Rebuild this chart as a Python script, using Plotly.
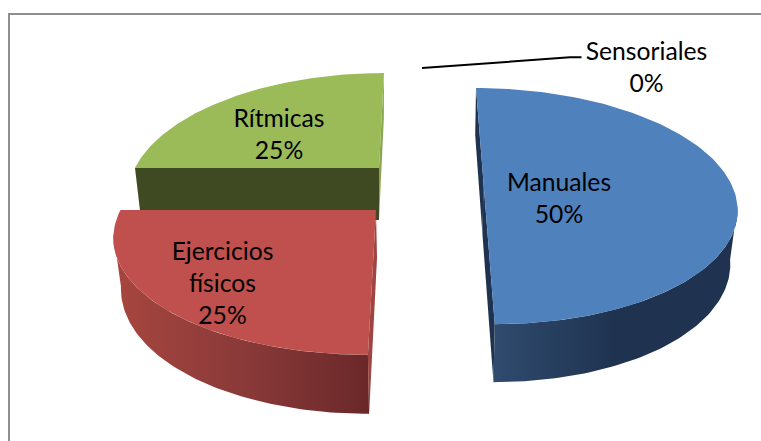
import numpy as np
import plotly.graph_objects as go

# --- data ---
categories = ["Manuales", "Ejercicios físicos", "Rítmicas", "Sensoriales"]
percent = [50, 25, 25, 0]

# --- drawing style: one exploded perspective sector per category ---
PERSP = {"Manuales": dict(cx=483.5, cy=182.5, R=247, s=-9, Ry=113.3, k=0.2, dc=52.5, dy=5.5, shift=-1),
         "Ejercicios físicos": dict(cx=376, cy=210, R=255.5, s=6.4, Ry=114.7, k=0.208, dc=48, dy=11, shift=1),
         "Rítmicas": dict(cx=379, cy=168, R=244, s=6, Ry=114.7, k=0.208, dc=52, dy=7, shift=0)}
TOP = {"Manuales": "#4F81BD", "Ejercicios físicos": "#C0504D", "Rítmicas": "#9BBB59"}
WALL = {"Manuales": [[0, "#2F4B6E"], [0.5, "#1F3350"], [1, "#1F3350"]],
        "Ejercicios físicos": [[0, "#A8463F"], [0.5, "#8A3A39"], [1, "#6B2829"]],
        "Rítmicas": None}
CUTS = {"Manuales": [(0, "#1F3350"), (180, "#1F3350")],
        "Ejercicios físicos": [(180, "#9E4441")],
        "Rítmicas": [(270, "#404A22"), (360, "#88A64E")]}
LABEL_AT = {"Manuales": (559, 200.5), "Ejercicios físicos": (222.5, 285.5), "Rítmicas": (279, 136.5), "Sensoriales": (646.5, 70)}
FONT = "Lato, Carlito, Calibri, sans-serif"
FSIZE = 24.7
F = 0.975


def top(g, t):
    t = np.radians(t)
    w = 1 + g["k"] * np.cos(t)
    return (g["cx"] + (g["R"] * np.sin(t) + g["s"] * np.cos(t)) / w,
            g["cy"] - g["Ry"] * np.cos(t) / w)


def bottom(g, t):
    x, y = top(g, t)
    x = g["cx"] + g["shift"] + F * (x - g["cx"])
    return x, y + g["dc"] - g["dy"] * np.cos(np.radians(t))


def center(g, low):
    return (g["cx"] + (g["shift"] if low else 0), g["cy"] + (g["dc"] if low else 0))


fig = go.Figure()


def poly(xs, ys, color=None, scale=None):
    kw = dict(fillgradient=dict(type="horizontal", colorscale=scale)) if scale else dict(fillcolor=color)
    fig.add_trace(go.Scatter(x=list(xs), y=list(ys), mode="lines", fill="toself",
                             line=dict(width=0), hoverinfo="skip", showlegend=False, **kw))


# back-to-front order
order = ["Rítmicas", "Manuales", "Ejercicios físicos"]
starts = dict(zip(categories, np.cumsum([0] + percent[:-1]) * 3.6))
for c in order:
    g = PERSP[c]
    a0 = starts[c]
    a1 = a0 + percent[categories.index(c)] * 3.6
    # cut faces
    for ang, col in CUTS[c]:
        tx, ty = top(g, ang)
        bx, by = bottom(g, ang)
        c0 = center(g, False)
        c1 = center(g, True)
        poly([tx, bx, c1[0], c0[0], tx], [ty, by, c1[1], c0[1], ty], color=col)
    # curved front wall: only the part that faces the viewer
    vis0, vis1 = max(a0, 101.5), min(a1, 258.5)
    if WALL[c] and vis1 > vis0:
        th = np.linspace(vis0, vis1, 80)
        tx, ty = top(g, th)
        bx, by = bottom(g, th)
        poly(np.r_[tx, bx[::-1], tx[0]], np.r_[ty, by[::-1], ty[0]], scale=WALL[c])
    # upper face
    th = np.linspace(a0, a1, 120)
    tx, ty = top(g, th)
    c0 = center(g, False)
    poly(np.r_[c0[0], tx, c0[0]], np.r_[c0[1], ty, c0[1]], color=TOP[c])

# leader line of the zero slice
fig.add_trace(go.Scatter(x=[422, 570, 581.5], y=[68, 57.3, 57.3], mode="lines",
                         line=dict(color="#000000", width=2), hoverinfo="skip", showlegend=False))

# labels
fig.add_trace(go.Scatter(
    x=[LABEL_AT[c][0] for c in categories],
    y=[LABEL_AT[c][1] for c in categories],
    text=[f"{c.replace(' ', '<br>')}<br>{p}%" for c, p in zip(categories, percent)],
    mode="text", textposition="middle center",
    textfont=dict(family=FONT, size=FSIZE, color="#000000"),
    hoverinfo="skip", showlegend=False))

fig.update_layout(
    width=761, height=441, margin=dict(l=0, r=0, t=0, b=0),
    paper_bgcolor="white", plot_bgcolor="white",
    xaxis=dict(range=[0, 761], visible=False, fixedrange=True),
    yaxis=dict(range=[441, 0], visible=False, fixedrange=True),
    shapes=[dict(type="line", xref="x", yref="y", x0=9, y0=441, x1=9, y1=14, line=dict(color="#8E8E8E", width=2)),
            dict(type="line", xref="x", yref="y", x0=8, y0=14, x1=761, y1=14, line=dict(color="#8E8E8E", width=2))],
)
fig.write_html("out.html", config={"displayModeBar": False},
               post_script="document.body.style.margin='0';document.body.style.overflow='hidden';")
